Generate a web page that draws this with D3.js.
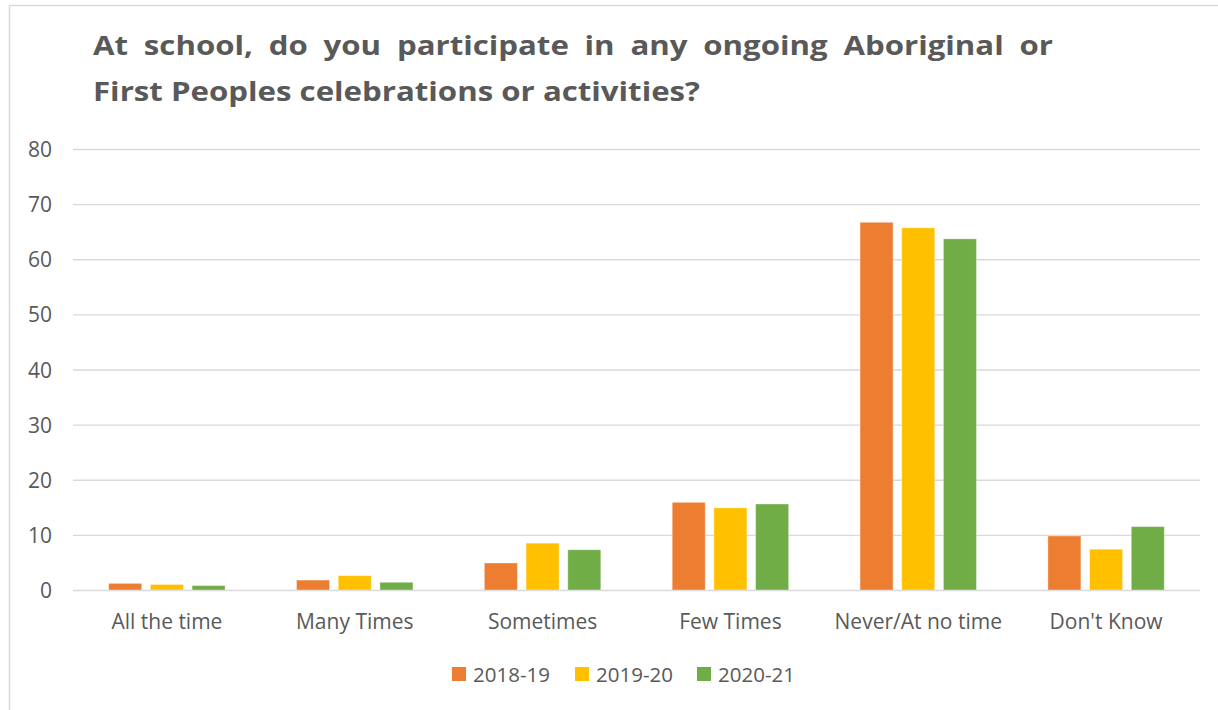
<!DOCTYPE html>
<html><head><meta charset="utf-8">
<script src="https://cdn.jsdelivr.net/npm/d3@7"></script>
<style>html,body{margin:0;padding:0;background:#fff;}svg{display:block;}</style>
</head><body>
<script>
const categories = ["All the time","Many Times","Sometimes","Few Times","Never/At no time","Don't Know"];
const seriesNames = ["2018-19","2019-20","2020-21"];
const v2018 = [1.2, 1.8, 4.9, 15.9, 66.7, 9.8];
const v2019 = [1.0, 2.6, 8.5, 14.9, 65.7, 7.4];
const v2020 = [0.8, 1.4, 7.3, 15.6, 63.7, 11.5];
const colors = ["#ED7D31","#FFC000","#70AD47"];
const yTicks = [0,10,20,30,40,50,60,70,80];
const titleLines = ["At school, do you participate in any ongoing Aboriginal or","First Peoples celebrations or activities?"];

const W=1218,H=710;
const svg=d3.select("body").append("svg").attr("width",W).attr("height",H);
const font="'Open Sans', sans-serif";
const grey="#595959";
svg.append("path").attr("d",`M9.5,${H} V5.5 H${W}`).attr("fill","none").attr("stroke","#d9d9d9").attr("stroke-width",1.5);

const tf=27.5;
const l2=svg.append("text").attr("x",93).attr("y",101).attr("font-family",font).attr("font-weight","bold")
 .attr("font-size",tf).attr("fill",grey).text(titleLines[1]);
const w2=l2.node().getComputedTextLength();
const sx=607/w2;
l2.attr("textLength",607).attr("lengthAdjust","spacingAndGlyphs");
const words=titleLines[0].split(" ");
const tmp=svg.append("g");
const ww=words.map(w=>{const t=tmp.append("text").attr("font-family",font).attr("font-weight","bold").attr("font-size",tf).text(w);return t.node().getComputedTextLength()*sx;});
tmp.remove();
const total=ww.reduce((a,b)=>a+b,0);
const gap=(960-total)/(words.length-1);
let cx=93;
words.forEach((w,i)=>{
  svg.append("text").attr("x",cx).attr("y",55).attr("font-family",font).attr("font-weight","bold")
   .attr("font-size",tf).attr("fill",grey).attr("textLength",ww[i]).attr("lengthAdjust","spacingAndGlyphs").text(w);
  cx+=ww[i]+gap;
});

const x0=d3.scaleBand().domain(categories).range([73,1200]);
const y=d3.scaleLinear().domain([0,80]).range([590,149]);
const barW=33, step=41.7;

const yAxis=d3.axisLeft(y).tickValues(yTicks).tickSize(-(1200-73)).tickFormat(d3.format("d"));
const ga=svg.append("g").attr("transform","translate(73,0)").call(yAxis);
ga.select(".domain").remove();
ga.selectAll(".tick line").attr("stroke","#d9d9d9").attr("stroke-width",1.3);
ga.selectAll(".tick text").attr("x",-21).attr("dy","0.36em").attr("font-family",font).attr("font-size",21).attr("fill",grey);

const data=[v2018,v2019,v2020];
data.forEach((vals,si)=>{
  svg.append("g").selectAll("rect").data(vals).join("rect")
   .attr("x",(d,i)=>x0(categories[i])+x0.bandwidth()/2+(si-1)*step-barW/2)
   .attr("width",barW)
   .attr("y",d=>y(d)).attr("height",d=>y(0)-y(d))
   .attr("fill",colors[si]).attr("stroke","#fff").attr("stroke-opacity",0.35).attr("stroke-width",1);
});

const xAxis=d3.axisBottom(x0).tickSize(0).tickPadding(0);
const gx=svg.append("g").attr("transform","translate(0,590)").call(xAxis);
gx.select(".domain").remove();
gx.selectAll(".tick text").attr("dy",0).attr("y",39).attr("font-family",font).attr("font-size",21).attr("fill",grey);

const lg=svg.append("g");
const lx=[452,575,697];
seriesNames.forEach((s,i)=>{
  lg.append("rect").attr("x",lx[i]).attr("y",667).attr("width",14).attr("height",14).attr("fill",colors[i]);
  lg.append("text").attr("x",lx[i]+21).attr("y",682).attr("font-family",font).attr("font-size",20.5).attr("fill",grey).text(s);
});
</script>
</body></html>
